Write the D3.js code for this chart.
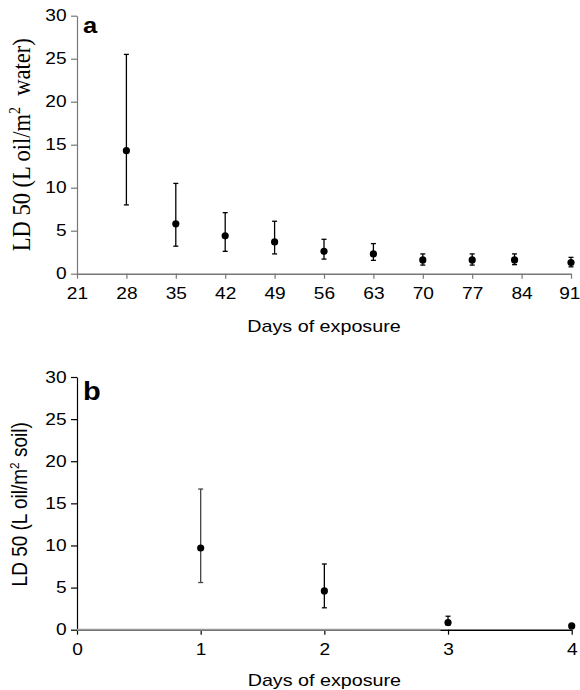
<!DOCTYPE html>
<html>
<head>
<meta charset="utf-8">
<script src="https://cdn.jsdelivr.net/npm/d3@7"></script>
<style>
  html, body { margin: 0; padding: 0; background: #fff; }
  svg { display: block; }
  text { white-space: pre; }
</style>
</head>
<body>
<svg id="chart" width="580" height="690"></svg>
<script>
// Panel a: LD50 in water over days of exposure
const daysA   = [28, 35, 42, 49, 56, 63, 70, 77, 83, 91];
const ld50A   = [14.3, 5.8, 4.4, 3.7, 2.6, 2.3, 1.6, 1.6, 1.6, 1.3];
const lowerA  = [8.0, 3.2, 2.6, 2.3, 1.7, 1.55, 1.0, 1.0, 1.05, 0.8];
const upperA  = [25.5, 10.5, 7.1, 6.1, 4.0, 3.5, 2.3, 2.3, 2.3, 1.9];
const xTicksA = [21, 28, 35, 42, 49, 56, 63, 70, 77, 84, 91];

// Panel b: LD50 in soil over days of exposure
const daysB   = [1, 2, 3, 4];
const ld50B   = [9.7, 4.6, 0.85, 0.45];
const lowerB  = [5.6, 2.6, 0.55, 0.45];
const upperB  = [16.7, 7.8, 1.6, 0.45];
const xTicksB = [0, 1, 2, 3, 4];

const yTicks = [0, 5, 10, 15, 20, 25, 30];

const svg = d3.select("#chart");
const SX = 1.16;            // horizontal glyph stretch
const tickFont = "Liberation Sans, Arial, sans-serif";

function styleTicks(g, lastShift) {
  const texts = g.selectAll(".tick text")
    .attr("font-family", tickFont)
    .attr("font-size", 16.5)
    .attr("fill", "#000")
    .attr("transform", `scale(${SX},1)`);
  if (lastShift) {
    const n = texts.size();
    texts.filter((d, i) => i === n - 1).attr("dx", lastShift);
  }
}

function drawPanel(opt) {
  const x = d3.scaleLinear().domain(opt.xDomain).range([opt.left, opt.right]);
  const y = d3.scaleLinear().domain([0, 30]).range([opt.bottom, opt.top]);
  const g = svg.append("g");

  // y axis
  const gy = g.append("g")
    .attr("transform", `translate(${opt.left},0)`)
    .call(d3.axisLeft(y).tickValues(yTicks).tickFormat(d3.format("d"))
      .tickSize(6).tickPadding(3).tickSizeOuter(0));
  gy.select(".domain").attr("stroke", opt.yAxisColor).attr("stroke-width", 1.2);
  gy.selectAll(".tick line").attr("stroke", opt.yAxisColor).attr("stroke-width", 1.2);
  styleTicks(gy);

  // x axis
  const gx = g.append("g")
    .attr("transform", `translate(0,${opt.bottom})`)
    .call(d3.axisBottom(x).tickValues(opt.xTicks).tickFormat(d3.format("d"))
      .tickSize(5).tickPadding(9).tickSizeOuter(0));
  gx.select(".domain").attr("stroke", opt.xAxisColor).attr("stroke-width", 1.5);
  gx.selectAll(".tick line").attr("stroke", opt.xAxisColor).attr("stroke-width", 1.2);
  styleTicks(gx, opt.lastShift);

  if (opt.greyTo !== undefined) {
    g.append("line")
      .attr("x1", x(opt.xDomain[0])).attr("x2", x(opt.greyTo))
      .attr("y1", y(0)).attr("y2", y(0))
      .attr("stroke", "#9a9a9a").attr("stroke-width", 2);
  }

  // error bars
  const data = opt.days.map((d, i) => ({ d, v: opt.vals[i], lo: opt.lo[i], hi: opt.hi[i], c: opt.barColors ? opt.barColors[i] : "#000" }));
  const eb = g.append("g");
  data.filter(p => p.hi > p.lo).forEach(p => {
    eb.append("line").attr("x1", x(p.d)).attr("x2", x(p.d))
      .attr("y1", y(p.lo)).attr("y2", y(p.hi)).attr("stroke", p.c).attr("stroke-width", 1.3);
    [p.lo, p.hi].forEach(v => {
      eb.append("line").attr("x1", x(p.d) - 2.5).attr("x2", x(p.d) + 2.5)
        .attr("y1", y(v)).attr("y2", y(v)).attr("stroke", p.c).attr("stroke-width", 1.3);
    });
  });

  // points
  g.append("g").selectAll("circle").data(data).join("circle")
    .attr("cx", p => x(p.d)).attr("cy", p => y(p.v)).attr("r", 3.6).attr("fill", "#000");

  // axis title
  g.append("text")
    .attr("transform", `translate(${(opt.left + opt.right) / 2},${opt.titleY}) scale(${SX},1)`)
    .attr("text-anchor", "middle")
    .attr("font-family", tickFont).attr("font-size", 17)
    .text("Days of exposure");

  // panel letter
  g.append("text")
    .attr("transform", `translate(${opt.left + 6},${opt.letterY}) scale(${SX},1)`)
    .attr("font-family", tickFont).attr("font-weight", "bold").attr("font-size", opt.letterSize)
    .text(opt.letter);

  // y label with superscript
  const yl = g.append("text")
    .attr("transform", `translate(${opt.yLabelX},${(opt.top + opt.bottom) / 2 + opt.yLabelShift}) scale(${SX},1) rotate(-90)`)
    .attr("text-anchor", "middle")
    .attr("font-family", opt.yLabelFont).attr("font-size", opt.yLabelSize);
  yl.append("tspan").text(opt.yLabel[0]);
  yl.append("tspan").attr("dy", -opt.yLabelSize * 0.38).attr("font-size", opt.yLabelSize * 0.62).text("2");
  yl.append("tspan").attr("dy", opt.yLabelSize * 0.38).text(opt.yLabel[1]);
}

drawPanel({
  xDomain: [21, 91], xTicks: xTicksA, left: 77, right: 571, top: 15.7, bottom: 273.7,
  days: daysA, vals: ld50A, lo: lowerA, hi: upperA,
  yAxisColor: "#777", xAxisColor: "#777", lastShift: -1.5,
  titleY: 332, letter: "a", letterY: 33, letterSize: 22,
  yLabel: ["LD 50 (L oil/m", "  water)"], yLabelFont: "Liberation Serif, Times New Roman, serif",
  yLabelSize: 22.5, yLabelX: 30, yLabelShift: 0
});

drawPanel({
  xDomain: [0, 4], xTicks: xTicksB, left: 77, right: 571.7, top: 377, bottom: 629.7,
  days: daysB, vals: ld50B, lo: lowerB, hi: upperB, barColors: ["#444", "#000", "#000", "#000"],
  yAxisColor: "#000", xAxisColor: "#000", greyTo: 2.94, lastShift: 0,
  titleY: 686, letter: "b", letterY: 400, letterSize: 25,
  yLabel: ["LD 50 (L oil/m", " soil)"], yLabelFont: "Liberation Sans, Arial, sans-serif",
  yLabelSize: 19, yLabelX: 27, yLabelShift: 1
});
</script>
</body>
</html>
